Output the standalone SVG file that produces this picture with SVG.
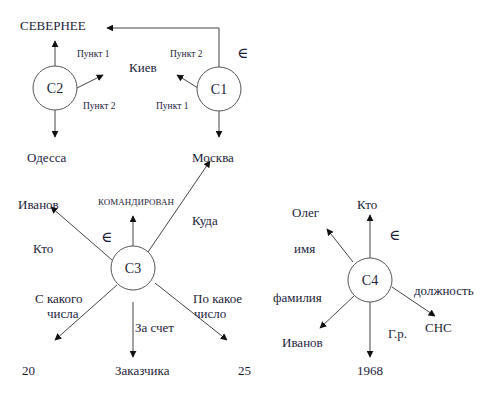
<svg xmlns="http://www.w3.org/2000/svg" width="499" height="404" viewBox="0 0 499 404">
<style>
text{font-family:'Liberation Serif','DejaVu Serif','Times New Roman',serif;fill:#1c1c3a;font-size:13px}
.s{font-size:9.5px}
.k{font-size:9px}
.e{font-size:15px}
.c{text-anchor:middle;font-size:14px}
line,polyline{stroke:#444;stroke-width:1;fill:none}
circle{fill:#fff;stroke:#555;stroke-width:1}
</style>
<defs>
<marker id="a" viewBox="0 0 10 10" refX="9" refY="5" markerWidth="7" markerHeight="7" markerUnits="userSpaceOnUse" orient="auto">
<path d="M0,0 L10,5 L0,10 Z" fill="#111"/>
</marker>
</defs>
<g id="connectors">
<polyline points="219,67 219,28 107,28" marker-end="url(#a)"/>
<line x1="55" y1="67" x2="55" y2="41" marker-end="url(#a)"/>
<line x1="55" y1="110" x2="55" y2="137" marker-end="url(#a)"/>
<line x1="77" y1="88" x2="103" y2="75" marker-end="url(#a)"/>
<line x1="198" y1="88" x2="177" y2="75" marker-end="url(#a)"/>
<line x1="219" y1="111" x2="219" y2="137" marker-end="url(#a)"/>
<line x1="112" y1="260" x2="51" y2="207" marker-end="url(#a)"/>
<line x1="133" y1="247" x2="133" y2="216" marker-end="url(#a)"/>
<line x1="148" y1="252" x2="210" y2="161" marker-end="url(#a)"/>
<line x1="117" y1="285" x2="55" y2="340" marker-end="url(#a)"/>
<line x1="133" y1="302" x2="133" y2="357" marker-end="url(#a)"/>
<line x1="155" y1="283" x2="227" y2="340" marker-end="url(#a)"/>
<line x1="370" y1="258" x2="370" y2="215" marker-end="url(#a)"/>
<line x1="353" y1="262" x2="327" y2="229" marker-end="url(#a)"/>
<line x1="355" y1="295" x2="320" y2="328" marker-end="url(#a)"/>
<line x1="370" y1="302" x2="370" y2="357" marker-end="url(#a)"/>
<line x1="392" y1="287" x2="435" y2="316" marker-end="url(#a)"/>
</g>
<g id="C2"><circle cx="55" cy="88" r="22"/><text class="c" x="55" y="93">C2</text></g>
<g id="C1"><circle cx="219" cy="89" r="22"/><text class="c" x="219" y="94">C1</text></g>
<g id="C3"><circle cx="133" cy="268" r="22"/><text class="c" x="133" y="273">C3</text></g>
<g id="C4"><circle cx="370" cy="280" r="22"/><text class="c" x="370" y="285">C4</text></g>
<g id="labels">
<text x="20" y="30" font-size="14">СЕВЕРНЕЕ</text>
<text class="s" x="77" y="57">Пункт 1</text>
<text class="s" x="83" y="109">Пункт 2</text>
<text x="129" y="72">Киев</text>
<text class="s" x="170" y="57">Пункт 2</text>
<text class="s" x="156" y="109">Пункт 1</text>
<text class="e" x="237" y="58">∈</text>
<text x="27" y="162">Одесса</text>
<text x="192" y="162">Москва</text>
<text x="18" y="209">Иванов</text>
<text class="k" x="98" y="205">КОМАНДИРОВАН</text>
<text class="e" x="101" y="242">∈</text>
<text x="33" y="253">Кто</text>
<text x="192" y="225">Куда</text>
<text x="35" y="303">С какого</text>
<text x="47" y="318">числа</text>
<text x="135" y="332">За счет</text>
<text x="193" y="303">По какое</text>
<text x="194" y="318">число</text>
<text x="22" y="375">20</text>
<text x="115" y="375">Заказчика</text>
<text x="238" y="375">25</text>
<text x="357" y="209">Кто</text>
<text x="292" y="217">Олег</text>
<text x="294" y="253">имя</text>
<text class="e" x="389" y="240">∈</text>
<text x="273" y="302">фамилия</text>
<text x="282" y="347">Иванов</text>
<text x="388" y="338">Г.р.</text>
<text x="357" y="375">1968</text>
<text x="414" y="295">должность</text>
<text x="425" y="332">СНС</text>
</g>
</svg>
